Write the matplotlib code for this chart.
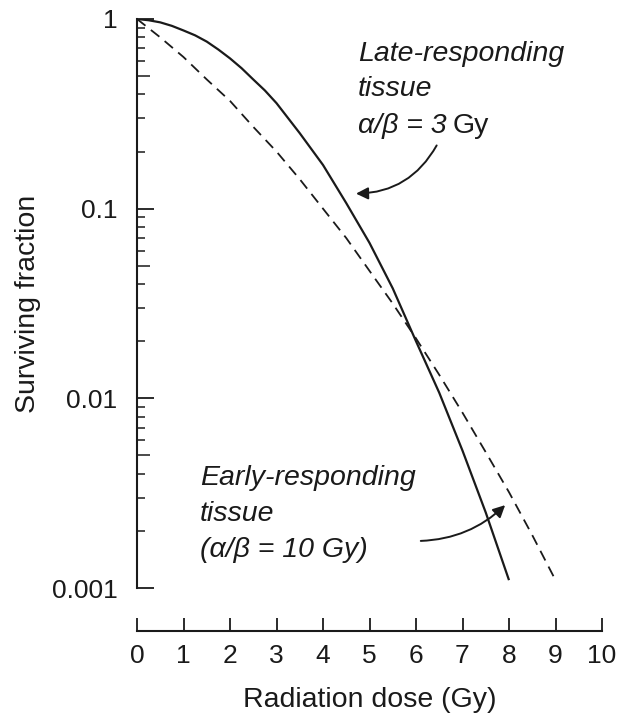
import matplotlib
matplotlib.use("Agg")
import matplotlib.pyplot as plt
from matplotlib.ticker import FixedLocator, NullFormatter

plt.rcParams['font.family'] = ['Liberation Sans', 'DejaVu Sans']

# dose (Gy) and surviving fraction
dose_late = [0, 0.25, 0.5, 0.75, 1, 1.25, 1.5, 1.75, 2, 2.25, 2.5, 2.75, 3,
             3.25, 3.5, 4, 4.5, 5, 5.5, 6, 6.5, 7, 7.5, 8]
sf_late = [1, 0.985, 0.96, 0.92, 0.87, 0.82, 0.76, 0.69, 0.62, 0.55, 0.48,
           0.42, 0.36, 0.30, 0.25, 0.17, 0.107, 0.066, 0.038, 0.020,
           0.0107, 0.0053, 0.0025, 0.0011]

dose_early = [0, 0.5, 1, 1.5, 2, 2.5, 3, 3.5, 4, 4.5, 5, 5.5, 6, 6.5,
              7, 7.5, 8, 8.5, 9]
sf_early = [1, 0.80, 0.63, 0.48, 0.37, 0.27, 0.20, 0.143, 0.10, 0.070,
            0.047, 0.0316, 0.0207, 0.0133, 0.0084, 0.0052, 0.0032,
            0.0019, 0.0011]

x_ticks = list(range(0, 11))
y_ticks = [0.001, 0.01, 0.1, 1]
y_tick_labels = ['0.001', '0.01', '0.1', '1']

W, H = 619, 713
fig = plt.figure(figsize=(W / 100, H / 100), dpi=100)


def fpos(px, py):
    # pixel position measured from the top-left -> figure fraction
    return px / W, 1 - py / H


ax = fig.add_axes([137 / W, 1 - 588 / H, (602 - 137) / W, (588 - 19) / H])
ax.set_yscale('log')
ax.set_xlim(0, 10)
ax.set_ylim(0.001, 1)

ink = '#1a1a1a'
ax.plot(dose_late, sf_late, color=ink, lw=1.6, solid_capstyle='butt')
ax.plot(dose_early, sf_early, color=ink, lw=1.3, linestyle=(0, (6, 3.8)))

# spines: detached bottom axis
for s in ['top', 'right']:
    ax.spines[s].set_visible(False)
ax.spines['left'].set_linewidth(1.5)
ax.spines['bottom'].set_linewidth(1.5)
ax.spines['bottom'].set_position(('outward', 31))
ax.spines['left'].set_color(ink)
ax.spines['bottom'].set_color(ink)

ax.set_xticks(x_ticks)
ax.set_xticklabels([str(t) for t in x_ticks])
ax.tick_params(axis='x', direction='in', length=9.5, width=1.3, colors=ink,
               labelsize=19, pad=9)

ax.yaxis.set_major_locator(FixedLocator(y_ticks))
ax.set_yticklabels(y_tick_labels)
minors = [m * 10.0 ** e for e in (-3, -2, -1) for m in range(2, 10) if m != 5]
ax.yaxis.set_minor_locator(FixedLocator(minors))
ax.yaxis.set_minor_formatter(NullFormatter())
ax.tick_params(axis='y', which='major', direction='in', length=12.5, width=1.3,
               colors=ink, labelsize=19, pad=14)
ax.tick_params(axis='y', which='minor', direction='in', length=6, width=1.1,
               colors=ink)
# the 0.5 marks are a bit longer
for e in (-3, -2, -1):
    ax.plot([0, 0.28], [5 * 10.0 ** e] * 2, color=ink, lw=1.1,
            solid_capstyle='butt', clip_on=False)

ax.set_xlabel('Radiation dose (Gy)', fontsize=20.5, color=ink, labelpad=14)
ax.set_ylabel('Surviving fraction', fontsize=20.5, color=ink, labelpad=8)

# annotations
tfs = 20.5
fig.text(*fpos(358, 54), 'Late-responding', fontsize=tfs, style='italic',
         va='center', ha='left', color=ink)
fig.text(*fpos(358, 89), 'tissue', fontsize=tfs, style='italic',
         va='center', ha='left', color=ink)
ab = fig.text(*fpos(358, 126), '\u03b1/\u03b2 = 3', fontsize=tfs,
              style='italic', va='center', ha='left', color=ink)
r = fig.canvas.get_renderer()
x_end = ab.get_window_extent(r).x1
fig.text((x_end + 6) / W, 1 - 126 / H, 'Gy', fontsize=tfs, va='center',
         ha='left', color=ink)

fig.text(*fpos(200, 478), 'Early-responding', fontsize=tfs, style='italic',
         va='center', ha='left', color=ink)
fig.text(*fpos(200, 514), 'tissue', fontsize=tfs, style='italic',
         va='center', ha='left', color=ink)
fig.text(*fpos(200, 550), '(\u03b1/\u03b2 = 10 Gy)', fontsize=tfs,
         style='italic', va='center', ha='left', color=ink)

ax.annotate('', xy=(4.65, 0.12), xycoords='data',
            xytext=fpos(438, 143), textcoords='figure fraction',
            arrowprops=dict(arrowstyle='-|>', color=ink, lw=1.4,
                            mutation_scale=18,
                            connectionstyle='arc3,rad=-0.3'))
ax.annotate('', xy=(7.96, 0.0028), xycoords='data',
            xytext=fpos(418, 541), textcoords='figure fraction',
            arrowprops=dict(arrowstyle='-|>', color=ink, lw=1.4,
                            mutation_scale=18,
                            connectionstyle='arc3,rad=0.2'))

fig.savefig('out.png', dpi=100)
